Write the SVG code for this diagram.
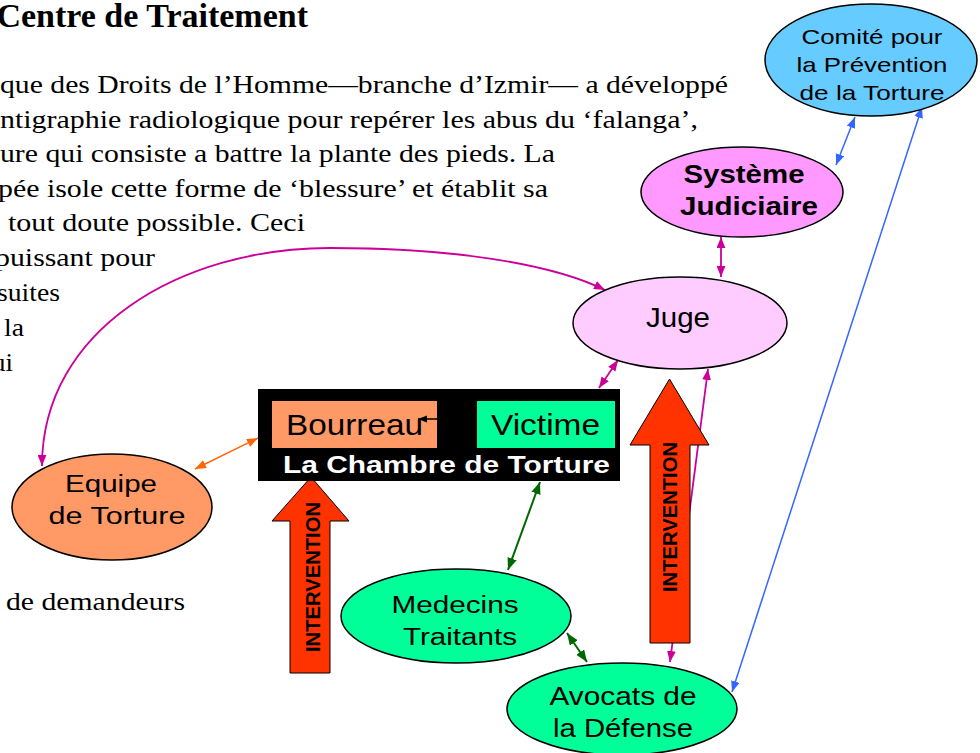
<svg xmlns="http://www.w3.org/2000/svg" width="980" height="753" viewBox="0 0 980 753">
<style>
.body{font-family:"Liberation Serif","Times New Roman",serif;font-size:25px;fill:#000}
.lbl{font-family:"Liberation Sans",Arial,sans-serif;fill:#000;text-anchor:middle}
.node{stroke:#000;stroke-width:1.5}
.mag{stroke:#CC0099;stroke-width:1.8;fill:none}
.blu{stroke:#3366FF;stroke-width:1.5;fill:none}
.grn{stroke:#006600;stroke-width:2;fill:none}
.org{stroke:#FF6600;stroke-width:1.5;fill:none}
.arw{fill:#FF3300;stroke:#000;stroke-width:1}
.iv{font-family:"Liberation Sans",Arial,sans-serif;font-weight:bold;font-size:20px;fill:#000;text-anchor:middle}
</style>
<defs>
<marker id="mM" viewBox="0 0 10 8" refX="10" refY="4" markerWidth="11" markerHeight="9" markerUnits="userSpaceOnUse" orient="auto-start-reverse"><path d="M0,0 L10,4 L0,8 z" fill="#CC0099"/></marker>
<marker id="mB" viewBox="0 0 10 8" refX="10" refY="4" markerWidth="11" markerHeight="9" markerUnits="userSpaceOnUse" orient="auto-start-reverse"><path d="M0,0 L10,4 L0,8 z" fill="#3366FF"/></marker>
<marker id="mG" viewBox="0 0 10 8" refX="10" refY="4" markerWidth="12" markerHeight="10" markerUnits="userSpaceOnUse" orient="auto-start-reverse"><path d="M0,0 L10,4 L0,8 z" fill="#006600"/></marker>
<marker id="mO" viewBox="0 0 10 8" refX="10" refY="4" markerWidth="11" markerHeight="9" markerUnits="userSpaceOnUse" orient="auto-start-reverse"><path d="M0,0 L10,4 L0,8 z" fill="#FF6600"/></marker>
<marker id="mK" viewBox="0 0 10 8" refX="10" refY="4" markerWidth="9" markerHeight="8" markerUnits="userSpaceOnUse" orient="auto"><path d="M0,0 L10,4 L0,8 z" fill="#000"/></marker>
</defs>
<rect width="980" height="753" fill="#fff"/>

<g id="text">
<text x="308" y="27" font-family="Liberation Serif,'Times New Roman',serif" font-weight="bold" font-size="34" text-anchor="end">Centre de Traitement</text>
<g class="body">
<text x="0" y="93" textLength="728" lengthAdjust="spacingAndGlyphs">que des Droits de l’Homme—branche d’Izmir— a développé</text>
<text x="0" y="127.5" textLength="698" lengthAdjust="spacingAndGlyphs">ntigraphie radiologique pour repérer les abus du ‘falanga’,</text>
<text x="0" y="162" textLength="555" lengthAdjust="spacingAndGlyphs">ure qui consiste a battre la plante des pieds. La</text>
<text x="-2" y="196.5" textLength="550" lengthAdjust="spacingAndGlyphs">pée isole cette forme de ‘blessure’ et établit sa</text>
<text x="8" y="231" textLength="297" lengthAdjust="spacingAndGlyphs">tout doute possible. Ceci</text>
<text x="-5" y="266" textLength="160" lengthAdjust="spacingAndGlyphs">puissant pour</text>
<text x="-3" y="301" textLength="63" lengthAdjust="spacingAndGlyphs">suites</text>
<text x="4" y="336" textLength="20" lengthAdjust="spacingAndGlyphs">la</text>
<text x="-8" y="370.5" textLength="21" lengthAdjust="spacingAndGlyphs">ui</text>
<text x="6" y="610" textLength="179" lengthAdjust="spacingAndGlyphs">de demandeurs</text>
</g>
</g>

<g id="connectors">
<path class="mag" d="M42,466 C42,330 180,248 330,248 C450,248 550,263 605,290" marker-start="url(#mM)" marker-end="url(#mM)"/>
<line class="org" x1="195" y1="469" x2="258" y2="438" marker-start="url(#mO)" marker-end="url(#mO)"/>
<line class="mag" x1="721" y1="237" x2="721" y2="277" marker-start="url(#mM)" marker-end="url(#mM)"/>
<line class="mag" x1="618" y1="360" x2="599" y2="388" marker-start="url(#mM)" marker-end="url(#mM)"/>
<line class="mag" x1="708" y1="369" x2="670" y2="662" marker-start="url(#mM)" marker-end="url(#mM)"/>
<line class="blu" x1="855" y1="117" x2="836" y2="165" marker-start="url(#mB)" marker-end="url(#mB)"/>
<line class="blu" x1="922" y1="107" x2="732" y2="692" marker-start="url(#mB)" marker-end="url(#mB)"/>
<line class="grn" x1="540" y1="482" x2="508" y2="570" marker-start="url(#mG)" marker-end="url(#mG)"/>
<line class="grn" x1="567" y1="633" x2="587" y2="662" marker-start="url(#mG)" marker-end="url(#mG)"/>
</g>

<g id="comite">
<ellipse class="node" cx="871" cy="60" rx="106" ry="56" fill="#66CCFF"/>
<text class="lbl" x="872" y="44" font-size="21" textLength="141" lengthAdjust="spacingAndGlyphs">Comité pour</text>
<text class="lbl" x="872" y="72" font-size="21" textLength="151" lengthAdjust="spacingAndGlyphs">la Prévention</text>
<text class="lbl" x="872" y="100" font-size="21" textLength="145" lengthAdjust="spacingAndGlyphs">de la Torture</text>
</g>

<g id="systeme">
<ellipse class="node" cx="742" cy="192" rx="101" ry="45" fill="#FF99FF"/>
<text class="lbl" x="744" y="183" font-size="26" font-weight="bold" textLength="121" lengthAdjust="spacingAndGlyphs">Système</text>
<text class="lbl" x="749" y="215" font-size="26" font-weight="bold" textLength="138" lengthAdjust="spacingAndGlyphs">Judiciaire</text>
</g>

<g id="juge">
<ellipse class="node" cx="680" cy="323" rx="107" ry="46" fill="#FFCCFF"/>
<text class="lbl" x="678" y="327" font-size="27" textLength="64" lengthAdjust="spacingAndGlyphs">Juge</text>
</g>

<g id="equipe">
<ellipse class="node" cx="112" cy="507" rx="100" ry="53" fill="#FF9966"/>
<text class="lbl" x="111" y="492" font-size="23" textLength="92" lengthAdjust="spacingAndGlyphs">Equipe</text>
<text class="lbl" x="117" y="524" font-size="23" textLength="137" lengthAdjust="spacingAndGlyphs">de Torture</text>
</g>

<g id="medecins">
<ellipse class="node" cx="456" cy="616" rx="115" ry="47" fill="#00FF99"/>
<text class="lbl" x="455" y="613" font-size="23" textLength="127" lengthAdjust="spacingAndGlyphs">Medecins</text>
<text class="lbl" x="460" y="645" font-size="23" textLength="114" lengthAdjust="spacingAndGlyphs">Traitants</text>
</g>

<g id="avocats">
<ellipse class="node" cx="622" cy="709" rx="115" ry="46" fill="#00FF99"/>
<text class="lbl" x="623" y="705" font-size="25" textLength="147" lengthAdjust="spacingAndGlyphs">Avocats de</text>
<text class="lbl" x="623" y="737" font-size="25" textLength="140" lengthAdjust="spacingAndGlyphs">la Défense</text>
</g>

<g id="intervention1">
<path class="arw" d="M311,477 L349,521 L330,521 L330,673 L290,673 L290,521 L272,521 Z"/>
<text class="iv" transform="translate(320,577) rotate(-90)" textLength="150" lengthAdjust="spacingAndGlyphs">INTERVENTION</text>
</g>

<g id="chambre">
<rect x="258" y="389" width="362" height="92" fill="#000"/>
<g id="bourreau">
<rect x="272" y="401" width="165" height="47" fill="#FF9966"/>
<text x="286" y="435" font-family="Liberation Sans,Arial,sans-serif" font-size="30" textLength="137" lengthAdjust="spacingAndGlyphs">Bourreau</text>
</g>
<g id="victime">
<rect x="477" y="401" width="138" height="47" fill="#00FF99"/>
<text x="491" y="435" font-family="Liberation Sans,Arial,sans-serif" font-size="30" textLength="109" lengthAdjust="spacingAndGlyphs">Victime</text>
</g>
<line x1="437" y1="419" x2="418" y2="419" stroke="#000" stroke-width="1.5" marker-end="url(#mK)"/>
<text x="283" y="473" font-family="Liberation Sans,Arial,sans-serif" font-weight="bold" font-size="24" fill="#fff" textLength="327" lengthAdjust="spacingAndGlyphs">La Chambre de Torture</text>
</g>

<g id="intervention2">
<path class="arw" d="M669.5,379 L709,445 L690,445 L690,643 L650,643 L650,445 L630,445 Z"/>
<text class="iv" transform="translate(677,517) rotate(-90)" textLength="150" lengthAdjust="spacingAndGlyphs">INTERVENTION</text>
</g>
</svg>
